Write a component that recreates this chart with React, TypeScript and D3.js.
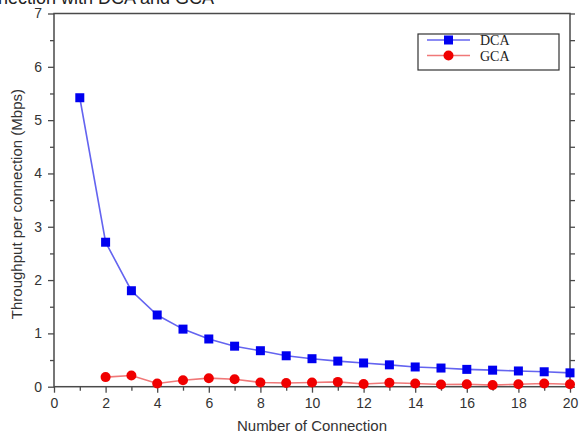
import { useRef, useEffect } from 'react';
import * as d3 from 'd3';

const connections = [1, 2, 3, 4, 5, 6, 7, 8, 9, 10, 11, 12, 13, 14, 15, 16, 17, 18, 19, 20];
const dca = [5.42, 2.71, 1.8, 1.345, 1.08, 0.895, 0.76, 0.675, 0.58, 0.525, 0.48, 0.445, 0.41, 0.37, 0.35, 0.325, 0.31, 0.295, 0.28, 0.26];
const gcaX = [2, 3, 4, 5, 6, 7, 8, 9, 10, 11, 12, 13, 14, 15, 16, 17, 18, 19, 20];
const gca = [0.18, 0.21, 0.06, 0.12, 0.16, 0.14, 0.08, 0.07, 0.08, 0.09, 0.05, 0.075, 0.06, 0.04, 0.045, 0.03, 0.045, 0.06, 0.045];
const xTicks = [0, 2, 4, 6, 8, 10, 12, 14, 16, 18, 20];
const yTicks = [0, 1, 2, 3, 4, 5, 6, 7];

const App = () => {
  const svgRef = useRef(null);

  useEffect(() => {
    const w = 581;
    const h = 439;
    const svg = d3.select(svgRef.current);
    svg.selectAll('*').remove();
    svg.attr('width', w).attr('height', h);

    const left = 54, right = 570, top = 13.5, bottom = 386.7;
    const x = d3.scaleLinear().domain([0, 20]).range([left, right]);
    const y = d3.scaleLinear().domain([0, 7]).range([bottom, top]);
    const axisColor = '#4a4a4a';
    const sans = 'Liberation Sans, Arial, sans-serif';

    // clipped caption at the top (only its lower half shows)
    svg.append('text')
      .attr('x', -12).attr('y', 4)
      .style('font-family', sans)
      .style('font-size', '18px')
      .attr('fill', '#222')
      .text('nnection with DCA and GCA');

    // frame
    svg.append('rect')
      .attr('x', left).attr('y', top)
      .attr('width', right - left).attr('height', bottom - top)
      .attr('fill', 'none').attr('stroke', axisColor).attr('stroke-width', 1.5);

    // x axis
    const xAxis = d3.axisBottom(x).tickValues(xTicks).tickSize(6).tickPadding(5).tickFormat(d3.format('d'));
    const gx = svg.append('g').attr('transform', `translate(0,${bottom})`).call(xAxis);
    gx.select('.domain').remove();
    gx.selectAll('line').attr('stroke', axisColor).attr('stroke-width', 1.3);
    gx.selectAll('text').style('font-family', sans).style('font-size', '14px').attr('fill', '#333');
    const xMinor = d3.axisBottom(x).tickValues(d3.range(1, 20, 2)).tickSize(4).tickFormat(() => '');
    const gxm = svg.append('g').attr('transform', `translate(0,${bottom})`).call(xMinor);
    gxm.select('.domain').remove();
    gxm.selectAll('line').attr('stroke', axisColor).attr('stroke-width', 1.3);

    // y axis
    const yAxis = d3.axisLeft(y).tickValues(yTicks).tickSize(6).tickPadding(6).tickFormat(d3.format('d'));
    const gy = svg.append('g').attr('transform', `translate(${left},0)`).call(yAxis);
    gy.select('.domain').remove();
    gy.selectAll('line').attr('stroke', axisColor).attr('stroke-width', 1.3);
    gy.selectAll('text').style('font-family', sans).style('font-size', '14px').attr('fill', '#333');
    const yMinor = d3.axisLeft(y).tickValues(d3.range(0.5, 7, 1)).tickSize(4).tickFormat(() => '');
    const gym = svg.append('g').attr('transform', `translate(${left},0)`).call(yMinor);
    gym.select('.domain').remove();
    gym.selectAll('line').attr('stroke', axisColor).attr('stroke-width', 1.3);

    // right mirrored ticks
    const yRight = d3.axisRight(y).tickValues(d3.range(0, 7.01, 0.5)).tickSize(5).tickFormat(() => '');
    const gyr = svg.append('g').attr('transform', `translate(${right},0)`).call(yRight);
    gyr.select('.domain').remove();
    gyr.selectAll('line').attr('stroke', axisColor).attr('stroke-width', 1.3);

    // axis titles
    svg.append('text')
      .attr('x', (left + right) / 2).attr('y', 431)
      .attr('text-anchor', 'middle')
      .style('font-family', sans)
      .style('font-size', '15px').attr('fill', '#333')
      .text('Number of Connection');
    svg.append('text')
      .attr('transform', `translate(22,${(top + bottom) / 2 + 4}) rotate(-90)`)
      .attr('text-anchor', 'middle')
      .style('font-family', sans)
      .style('font-size', '15px').attr('fill', '#333')
      .text('Throughput per connection (Mbps)');

    // DCA series
    const dcaPts = connections.map((c, i) => [x(c), y(dca[i])] as [number, number]);
    svg.append('path')
      .attr('d', d3.line()(dcaPts))
      .attr('fill', 'none').attr('stroke', '#6464f0').attr('stroke-width', 1.6);
    svg.selectAll('.sq').data(dcaPts).enter().append('rect')
      .attr('x', d => d[0] - 4.5).attr('y', d => d[1] - 4.5)
      .attr('width', 9).attr('height', 9)
      .attr('fill', '#0000f0');

    // GCA series
    const gcaPts = gcaX.map((c, i) => [x(c), y(gca[i])] as [number, number]);
    svg.append('path')
      .attr('d', d3.line()(gcaPts))
      .attr('fill', 'none').attr('stroke', '#f07878').attr('stroke-width', 1.6);
    svg.selectAll('.ci').data(gcaPts).enter().append('circle')
      .attr('cx', d => d[0]).attr('cy', d => d[1]).attr('r', 5)
      .attr('fill', '#f00000');

    // legend
    const lg = svg.append('g');
    lg.append('rect')
      .attr('x', 418).attr('y', 34).attr('width', 141).attr('height', 36)
      .attr('fill', '#fff').attr('stroke', '#333').attr('stroke-width', 1.2);
    const items = [
      { name: 'DCA', line: '#6464f0', mark: '#0000f0', sq: true },
      { name: 'GCA', line: '#f07878', mark: '#f00000', sq: false },
    ];
    items.forEach((it, i) => {
      const ly = 40 + i * 15.5;
      lg.append('line').attr('x1', 427).attr('x2', 470).attr('y1', ly).attr('y2', ly)
        .attr('stroke', it.line).attr('stroke-width', 1.6);
      if (it.sq) {
        lg.append('rect').attr('x', 444).attr('y', ly - 4.5).attr('width', 9).attr('height', 9).attr('fill', it.mark);
      } else {
        lg.append('circle').attr('cx', 448.5).attr('cy', ly).attr('r', 5).attr('fill', it.mark);
      }
      lg.append('text').attr('x', 480).attr('y', ly + 5)
        .style('font-family', 'Liberation Serif, Times New Roman, serif')
        .style('font-size', '14px').attr('fill', '#222')
        .text(it.name);
    });
  }, []);

  return (
    <svg ref={svgRef} style={{ position: 'absolute', left: 0, top: 0 }}></svg>
  );
};

export default App;
